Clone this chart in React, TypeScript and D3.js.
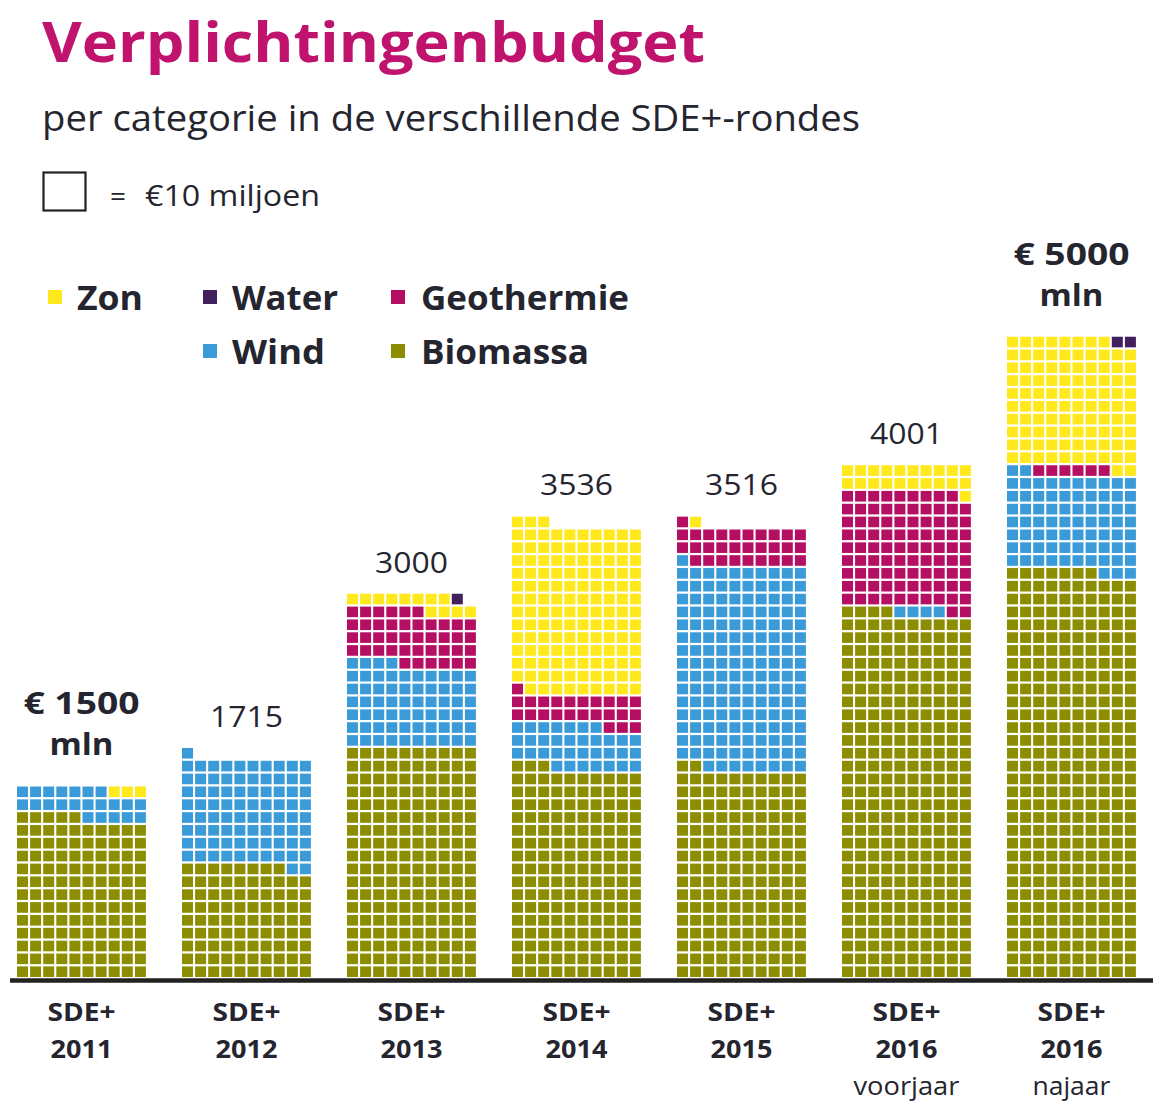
import React from "react";
import * as d3 from "d3";

// ---- data (1 square = €10 miljoen) ----
const rounds = ["r2011", "r2012", "r2013", "r2014", "r2015", "r2016v", "r2016n"];
const roundYears = ["2011", "2012", "2013", "2014", "2015", "2016", "2016"];
const roundSub = ["", "", "", "", "", "voorjaar", "najaar"];
const totalLabels = ["€ 1500", "1715", "3000", "3536", "3516", "4001", "€ 5000"];
const totalBold = [true, false, false, false, false, false, true];

const categories = ["Biomassa", "Wind", "Geothermie", "Zon", "Water"];
const biomassa = [125, 88, 180, 163, 162, 284, 317];
const wind = [22, 83, 64, 34, 159, 4, 75];
const geothermie = [0, 0, 42, 24, 30, 91, 6];
const zon = [3, 0, 12, 132, 1, 21, 100];
const water = [0, 0, 1, 0, 0, 0, 2];
const seriesValues = [biomassa, wind, geothermie, zon, water];

const colors: Record<string, string> = {
  Zon: "#FFE81C",
  Water: "#42205E",
  Geothermie: "#B50F63",
  Wind: "#3A9BD8",
  Biomassa: "#8C8D00",
};

const legendItems = [
  { name: "Zon", col: 0, row: 0 },
  { name: "Water", col: 1, row: 0 },
  { name: "Geothermie", col: 2, row: 0 },
  { name: "Wind", col: 1, row: 1 },
  { name: "Biomassa", col: 2, row: 1 },
];

const COLS = 10;
const TEXT = "#25252f";
const FONT = "'Open Sans', 'Noto Sans', sans-serif";

export default function App() {
  const W = 1168;
  const H = 1116;
  const baseY = 977;
  const rowPitch = 12.85;
  const colPitch = 13.1;
  const cellW = 11;
  const cellH = 10.6;

  const x = d3
    .scaleBand<string>()
    .domain(rounds)
    .range([17, 17 + 165 * rounds.length])
    .paddingInner(0)
    .paddingOuter(0);
  const y = d3.scaleLinear().domain([0, 50]).range([baseY, baseY - 50 * rowPitch]);

  const cells: { key: string; x: number; y: number; fill: string }[] = [];
  const tops: number[] = [];
  rounds.forEach((r, bi) => {
    let idx = 0;
    categories.forEach((c, ci) => {
      const n = seriesValues[ci][bi];
      for (let k = 0; k < n; k++) {
        const row = Math.floor(idx / COLS);
        const col = idx % COLS;
        cells.push({
          key: `${r}-${idx}`,
          x: (x(r) as number) + col * colPitch,
          y: y(row + 1) + (rowPitch - cellH),
          fill: colors[c],
        });
        idx++;
      }
    });
    tops.push(y(Math.ceil(idx / COLS)));
  });

  const barW = (COLS - 1) * colPitch + cellW;
  const legX = [48, 203, 391];
  const legY = [297, 351];

  return (
    <svg width={W} height={H} viewBox={`0 0 ${W} ${H}`} style={{ display: "block", margin: "-8px", background: "#fff" }}>
      <rect x={0} y={0} width={W} height={H} fill="#fff" />
      <text x={42} y={62} fontFamily={FONT} fontWeight={700} fontSize={56} fill="#C0136E" textLength={663} lengthAdjust="spacingAndGlyphs">
        Verplichtingenbudget
      </text>
      <text x={42} y={131} fontFamily={FONT} fontSize={36} fill={TEXT} textLength={818} lengthAdjust="spacingAndGlyphs">
        per categorie in de verschillende SDE+-rondes
      </text>
      <rect x={43.5} y={172.5} width={42} height={38} fill="none" stroke="#222" strokeWidth={2.2} />
      <text x={110} y={206} fontFamily={FONT} fontSize={28} fill={TEXT}>=</text>
      <text x={145} y={206} fontFamily={FONT} fontSize={30} fill={TEXT} textLength={175} lengthAdjust="spacingAndGlyphs">
        €10 miljoen
      </text>

      {legendItems.map((l) => {
        const widths: Record<string, number> = { Zon: 66, Water: 106, Geothermie: 208, Wind: 93, Biomassa: 168 };
        const lx = legX[l.col];
        const ly = legY[l.row];
        return (
          <g key={l.name}>
            <rect x={lx} y={ly - 7} width={14} height={14} fill={colors[l.name]} />
            <text x={lx + (l.col === 2 ? 30 : 29)} y={ly + 13} fontFamily={FONT} fontWeight={700} fontSize={34} fill={TEXT} textLength={widths[l.name]} lengthAdjust="spacingAndGlyphs">
              {l.name}
            </text>
          </g>
        );
      })}

      {cells.map((c) => (
        <rect key={c.key} x={c.x} y={c.y} width={cellW} height={cellH} fill={c.fill} />
      ))}

      <line x1={10} x2={1153} y1={baseY + 3.5} y2={baseY + 3.5} stroke="#222" strokeWidth={4.5} />

      {rounds.map((r, i) => {
        const cx = (x(r) as number) + barW / 2;
        const top = tops[i];
        return (
          <g key={r}>
            {totalBold[i] ? (
              <>
                <text x={cx} y={top - 70} textAnchor="middle" fontFamily={FONT} fontWeight={700} fontSize={30} fill={TEXT} textLength={116} lengthAdjust="spacingAndGlyphs">
                  {totalLabels[i]}
                </text>
                <text x={cx} y={top - 29} textAnchor="middle" fontFamily={FONT} fontWeight={700} fontSize={30} fill={TEXT} textLength={64} lengthAdjust="spacingAndGlyphs">
                  mln
                </text>
              </>
            ) : (
              <text x={cx} y={top - 19} textAnchor="middle" fontFamily={FONT} fontSize={30} fill={TEXT} textLength={73} lengthAdjust="spacingAndGlyphs">
                {totalLabels[i]}
              </text>
            )}
            <text x={cx} y={1021} textAnchor="middle" fontFamily={FONT} fontWeight={700} fontSize={25} fill={TEXT} textLength={68} lengthAdjust="spacingAndGlyphs">
              SDE+
            </text>
            <text x={cx} y={1058} textAnchor="middle" fontFamily={FONT} fontWeight={700} fontSize={25} fill={TEXT} textLength={62} lengthAdjust="spacingAndGlyphs">
              {roundYears[i]}
            </text>
            {roundSub[i] && (
              <text x={cx} y={1095} textAnchor="middle" fontFamily={FONT} fontSize={25} fill={TEXT} textLength={i === 5 ? 106 : 78} lengthAdjust="spacingAndGlyphs">
                {roundSub[i]}
              </text>
            )}
          </g>
        );
      })}
    </svg>
  );
}
